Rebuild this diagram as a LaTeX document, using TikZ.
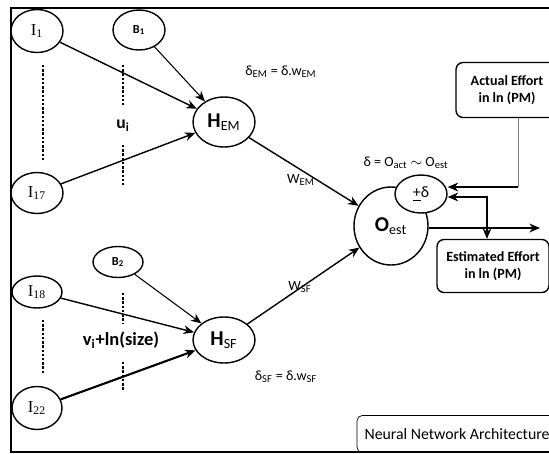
\documentclass[tikz,border=0pt]{standalone}
\usepackage{fontspec}
\setmainfont{Carlito}
\newfontfamily\serifrm{Liberation Serif}
\usetikzlibrary{shapes.geometric}
\usetikzlibrary{arrows.meta}
\tikzset{neuron/.style={draw,ellipse,thick,inner sep=0pt,fill=white}}
\tikzset{inpt/.style={neuron,font=\serifrm\fontsize{9.5}{10}\selectfont}}
\tikzset{bias/.style={neuron,font=\fontsize{7}{8}\selectfont\bfseries}}
\tikzset{hidden/.style={neuron,font=\fontsize{12}{14}\selectfont}}
\tikzset{effbox/.style={draw,thick,rounded corners=4pt,align=center,font=\fontsize{8}{10}\selectfont\bfseries}}
\tikzset{arr/.style={thick,-{Stealth[length=6pt,width=5pt]}}}
\tikzset{dots/.style={densely dotted,line width=1.4pt}}
\tikzset{lbl/.style={font=\fontsize{8}{9}\selectfont}}

\begin{document}
\begin{tikzpicture}[x=0.02cm,y=-0.02cm]
  \useasboundingbox (0,0) rectangle (549,454);
  % frame
  \draw[line width=1.2pt] (570,8) -- (11,8) -- (11,452) -- (570,452);

  % input layer
  \node[inpt,minimum width=1.04cm,minimum height=0.86cm] (in1)  at (37,31)  {I\textsubscript{1}};
  \node[inpt,minimum width=1.04cm,minimum height=0.82cm] (in17) at (37,193) {I\textsubscript{17}};
  \node[inpt,minimum width=1.0cm,minimum height=0.64cm]  (in18) at (37,292) {I\textsubscript{18}};
  \node[inpt,minimum width=1.0cm,minimum height=0.86cm]  (in22) at (37,408) {I\textsubscript{22}};
  \node[bias,minimum width=1.04cm,minimum height=0.8cm]  (b1)   at (139,30) {B\textsubscript{1}};
  \node[bias,minimum width=1.0cm,minimum height=0.62cm]  (b2)   at (118,262) {B\textsubscript{2}};

  % hidden and output layer
  \node[hidden,minimum width=1.24cm,minimum height=1.0cm]  (hem) at (224,122) {\textbf{H}\textsubscript{EM}};
  \node[hidden,minimum width=1.24cm,minimum height=0.92cm] (hsf) at (224,340) {\textbf{H}\textsubscript{SF}};
  \node[hidden,minimum width=1.48cm,minimum height=1.56cm] (oest) at (391,226) {\textbf{O}\textsubscript{est}};
  \node[neuron,minimum width=1.04cm,minimum height=0.76cm,font=\fontsize{9}{10}\selectfont] (pm) at (421,194) {\underline{+}δ};

  % boxes
  \node[effbox,minimum width=2.04cm,minimum height=1.1cm] (actual) at (507,90) {Actual Effort\\in ln (PM)};
  \node[effbox,minimum width=2.24cm,minimum height=1.06cm] (estim) at (493,266) {Estimated Effort\\in ln (PM)};
  \node[draw,thin,rounded corners=3pt,minimum width=4.0cm,minimum height=0.74cm,font=\fontsize{9}{10}\selectfont] (nna) at (457,434) {Neural Network Architecture};

  % dotted separators
  \draw[dots] (43,65) -- (43,160);
  \draw[dots] (43,320) -- (43,373);
  \draw[dots] (123,65) -- (123,107);
  \draw[dots] (123,145) -- (123,187);
  \draw[dots] (123,293) -- (123,323);
  \draw[dots] (123,362) -- (123,390);

  % connections
  \draw[arr] (in1) -- (hem);
  \draw[arr,semithick] (b1) -- (hem);
  \draw[arr] (in17) -- (hem);
  \draw[arr] (in18) -- (hsf);
  \draw[arr,semithick] (b2) -- (hsf);
  \draw[arr,very thick] (in22) -- (hsf);
  \draw[arr] (hem) -- (oest);
  \draw[arr] (hsf) -- (oest);

  % feedback and output
  \coordinate (fb1) at (518,187);
  \coordinate (fb2) at (487,197);
  \coordinate (outend) at (540,228);
  \draw[gray,thin] (actual.south -| fb1) -- (fb1);
  \draw[arr,very thick] (fb1) -- (pm.east |- fb1);
  \draw[thick,{Stealth[length=6pt,width=5pt]}-{Stealth[length=6pt,width=5pt]}] (pm.east |- fb2) -| (fb2 |- estim.north);
  \draw[arr,line width=1.6pt] (oest.east |- outend) -- (outend);

  % labels
  \node[lbl,font=\fontsize{10}{12}\selectfont\bfseries] (ui) at (123,126) {u\textsubscript{i}};
  \node[lbl,font=\fontsize{10.5}{12}\selectfont\bfseries] (vi) at (121,340) {v\textsubscript{i}+ln(size)};
  \node[lbl] (dem) at (281,72) {δ\textsubscript{EM} = δ.w\textsubscript{EM}};
  \node[lbl] (dsf) at (286,377) {δ\textsubscript{SF} = δ.w\textsubscript{SF}};
  \node[lbl] (wem) at (301,180) {W\textsubscript{EM}};
  \node[lbl] (wsf) at (300,287) {W\textsubscript{SF}};
  \node[lbl] (dl) at (406,163) {δ = O\textsubscript{act} $\sim$ O\textsubscript{est}};
\end{tikzpicture}
\end{document}
